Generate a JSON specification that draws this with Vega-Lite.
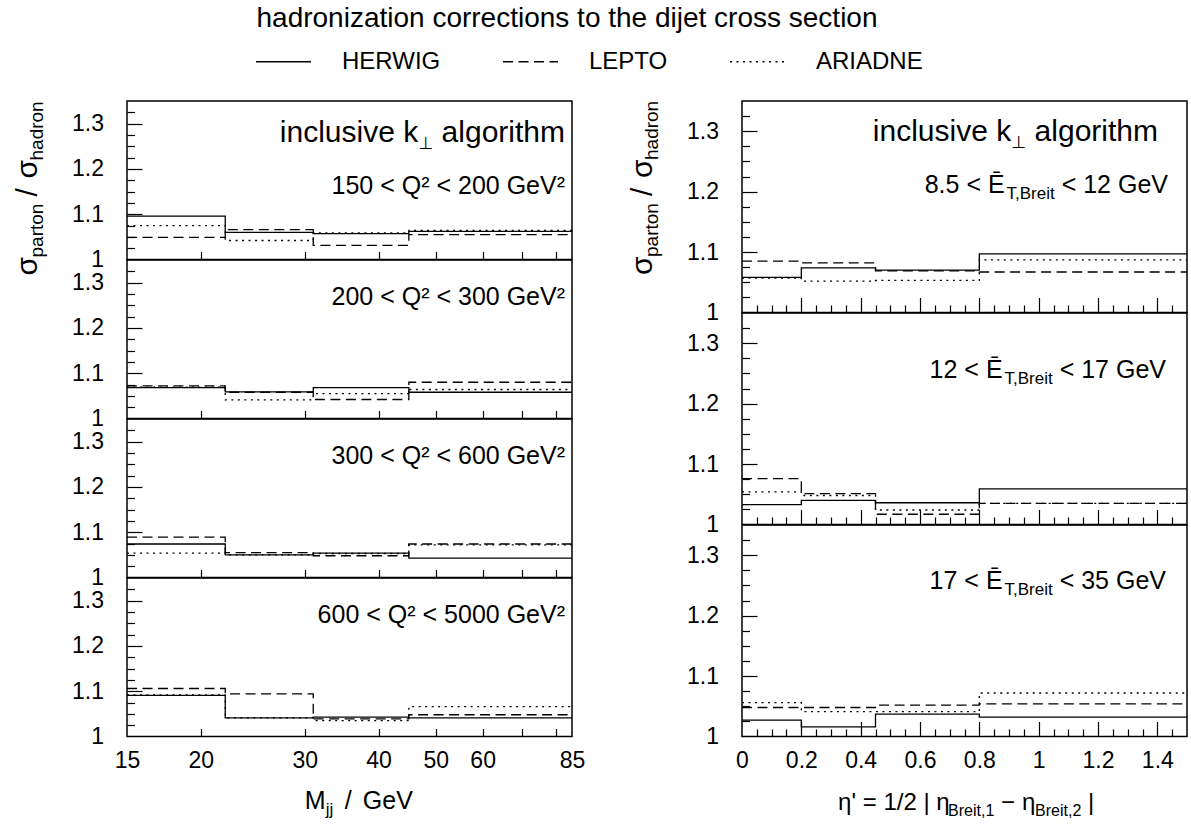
{
  "$schema": "https://vega.github.io/schema/vega-lite/v6.json",
  "autosize": {"type": "none"},
  "padding": {"left": 127, "top": 101, "right": 1064, "bottom": 726},
  "background": "white",
  "title": {"text": "hadronization corrections to the dijet cross section", "anchor": "middle", "frame": "group", "dx": 440, "offset": 0, "fontSize": 28, "fontWeight": "normal", "font": "Liberation Sans", "color": "black"},
  "datasets": {
    "h": [
      {"p":"L1","m":"HERWIG","x":15,"y":1.096},{"p":"L1","m":"HERWIG","x":22,"y":1.060},{"p":"L1","m":"HERWIG","x":31,"y":1.057},{"p":"L1","m":"HERWIG","x":45,"y":1.062},{"p":"L1","m":"HERWIG","x":85,"y":1.062},
      {"p":"L1","m":"LEPTO","x":15,"y":1.049},{"p":"L1","m":"LEPTO","x":22,"y":1.066},{"p":"L1","m":"LEPTO","x":31,"y":1.031},{"p":"L1","m":"LEPTO","x":45,"y":1.055},{"p":"L1","m":"LEPTO","x":85,"y":1.055},
      {"p":"L1","m":"ARIADNE","x":15,"y":1.075},{"p":"L1","m":"ARIADNE","x":22,"y":1.042},{"p":"L1","m":"ARIADNE","x":31,"y":1.059},{"p":"L1","m":"ARIADNE","x":45,"y":1.064},{"p":"L1","m":"ARIADNE","x":85,"y":1.064},
      {"p":"L2","m":"HERWIG","x":15,"y":1.068},{"p":"L2","m":"HERWIG","x":22,"y":1.059},{"p":"L2","m":"HERWIG","x":31,"y":1.068},{"p":"L2","m":"HERWIG","x":45,"y":1.058},{"p":"L2","m":"HERWIG","x":85,"y":1.058},
      {"p":"L2","m":"LEPTO","x":15,"y":1.072},{"p":"L2","m":"LEPTO","x":22,"y":1.058},{"p":"L2","m":"LEPTO","x":31,"y":1.042},{"p":"L2","m":"LEPTO","x":45,"y":1.080},{"p":"L2","m":"LEPTO","x":85,"y":1.080},
      {"p":"L2","m":"ARIADNE","x":15,"y":1.069},{"p":"L2","m":"ARIADNE","x":22,"y":1.041},{"p":"L2","m":"ARIADNE","x":31,"y":1.055},{"p":"L2","m":"ARIADNE","x":45,"y":1.064},{"p":"L2","m":"ARIADNE","x":85,"y":1.064},
      {"p":"L3","m":"HERWIG","x":15,"y":1.074},{"p":"L3","m":"HERWIG","x":22,"y":1.050},{"p":"L3","m":"HERWIG","x":31,"y":1.054},{"p":"L3","m":"HERWIG","x":45,"y":1.043},{"p":"L3","m":"HERWIG","x":85,"y":1.043},
      {"p":"L3","m":"LEPTO","x":15,"y":1.089},{"p":"L3","m":"LEPTO","x":22,"y":1.055},{"p":"L3","m":"LEPTO","x":31,"y":1.048},{"p":"L3","m":"LEPTO","x":45,"y":1.074},{"p":"L3","m":"LEPTO","x":85,"y":1.074},
      {"p":"L3","m":"ARIADNE","x":15,"y":1.054},{"p":"L3","m":"ARIADNE","x":22,"y":1.050},{"p":"L3","m":"ARIADNE","x":31,"y":1.053},{"p":"L3","m":"ARIADNE","x":45,"y":1.072},{"p":"L3","m":"ARIADNE","x":85,"y":1.072},
      {"p":"L4","m":"HERWIG","x":15,"y":1.091},{"p":"L4","m":"HERWIG","x":22,"y":1.041},{"p":"L4","m":"HERWIG","x":31,"y":1.043},{"p":"L4","m":"HERWIG","x":45,"y":1.041},{"p":"L4","m":"HERWIG","x":85,"y":1.041},
      {"p":"L4","m":"LEPTO","x":15,"y":1.106},{"p":"L4","m":"LEPTO","x":22,"y":1.094},{"p":"L4","m":"LEPTO","x":31,"y":1.039},{"p":"L4","m":"LEPTO","x":45,"y":1.048},{"p":"L4","m":"LEPTO","x":85,"y":1.048},
      {"p":"L4","m":"ARIADNE","x":15,"y":1.092},{"p":"L4","m":"ARIADNE","x":22,"y":1.041},{"p":"L4","m":"ARIADNE","x":31,"y":1.035},{"p":"L4","m":"ARIADNE","x":45,"y":1.066},{"p":"L4","m":"ARIADNE","x":85,"y":1.066},
      {"p":"R1","m":"HERWIG","x":0,"y":1.058},{"p":"R1","m":"HERWIG","x":0.2,"y":1.074},{"p":"R1","m":"HERWIG","x":0.45,"y":1.070},{"p":"R1","m":"HERWIG","x":0.8,"y":1.097},{"p":"R1","m":"HERWIG","x":1.5,"y":1.097},
      {"p":"R1","m":"LEPTO","x":0,"y":1.085},{"p":"R1","m":"LEPTO","x":0.2,"y":1.082},{"p":"R1","m":"LEPTO","x":0.45,"y":1.069},{"p":"R1","m":"LEPTO","x":0.8,"y":1.067},{"p":"R1","m":"LEPTO","x":1.5,"y":1.067},
      {"p":"R1","m":"ARIADNE","x":0,"y":1.057},{"p":"R1","m":"ARIADNE","x":0.2,"y":1.052},{"p":"R1","m":"ARIADNE","x":0.45,"y":1.053},{"p":"R1","m":"ARIADNE","x":0.8,"y":1.087},{"p":"R1","m":"ARIADNE","x":1.5,"y":1.087},
      {"p":"R2","m":"HERWIG","x":0,"y":1.033},{"p":"R2","m":"HERWIG","x":0.2,"y":1.040},{"p":"R2","m":"HERWIG","x":0.45,"y":1.036},{"p":"R2","m":"HERWIG","x":0.8,"y":1.059},{"p":"R2","m":"HERWIG","x":1.5,"y":1.059},
      {"p":"R2","m":"LEPTO","x":0,"y":1.076},{"p":"R2","m":"LEPTO","x":0.2,"y":1.051},{"p":"R2","m":"LEPTO","x":0.45,"y":1.017},{"p":"R2","m":"LEPTO","x":0.8,"y":1.035},{"p":"R2","m":"LEPTO","x":1.5,"y":1.035},
      {"p":"R2","m":"ARIADNE","x":0,"y":1.054},{"p":"R2","m":"ARIADNE","x":0.2,"y":1.048},{"p":"R2","m":"ARIADNE","x":0.45,"y":1.024},{"p":"R2","m":"ARIADNE","x":0.8,"y":1.035},{"p":"R2","m":"ARIADNE","x":1.5,"y":1.035},
      {"p":"R3","m":"HERWIG","x":0,"y":1.027},{"p":"R3","m":"HERWIG","x":0.2,"y":1.016},{"p":"R3","m":"HERWIG","x":0.45,"y":1.037},{"p":"R3","m":"HERWIG","x":0.8,"y":1.032},{"p":"R3","m":"HERWIG","x":1.5,"y":1.032},
      {"p":"R3","m":"LEPTO","x":0,"y":1.048},{"p":"R3","m":"LEPTO","x":0.2,"y":1.048},{"p":"R3","m":"LEPTO","x":0.45,"y":1.052},{"p":"R3","m":"LEPTO","x":0.8,"y":1.054},{"p":"R3","m":"LEPTO","x":1.5,"y":1.054},
      {"p":"R3","m":"ARIADNE","x":0,"y":1.056},{"p":"R3","m":"ARIADNE","x":0.2,"y":1.041},{"p":"R3","m":"ARIADNE","x":0.45,"y":1.041},{"p":"R3","m":"ARIADNE","x":0.8,"y":1.072},{"p":"R3","m":"ARIADNE","x":1.5,"y":1.072}
    ]
  },
  "spacing": 615,
  "bounds": "flush",
  "resolve": {"scale": {"strokeDash": "shared"}, "legend": {"strokeDash": "shared"}},
  "hconcat": [
    {
      "spacing": 0, "bounds": "flush",
      "resolve": {"scale": {"strokeDash": "shared"}, "legend": {"strokeDash": "shared"}},
      "vconcat": [
        {
          "width": 445, "height": 158.5,
          "resolve": {"axis": {"x": "independent", "y": "independent"}},
          "layer": [
            {"data": {"name": "h"}, "transform": [{"filter": "datum.p == 'L1'"}],
             "mark": {"type": "line", "interpolate": "step-after", "color": "black", "strokeWidth": 1.3},
             "encoding": {
               "x": {"field": "x", "type": "quantitative", "scale": {"type": "log", "domain": [15, 85], "nice": false}, "axis": null},
               "y": {"field": "y", "type": "quantitative", "scale": {"domain": [1, 1.35], "nice": false, "zero": false}, "axis": {"orient": "left", "values": [1, 1.1, 1.2, 1.3], "ticks": false, "labelPadding": 23.5, "format": "~g", "title": null, "labelOverlap": false, "labelFlush": false}},
               "strokeDash": {"field": "m", "type": "nominal", "scale": {"domain": ["HERWIG", "LEPTO", "ARIADNE"], "range": [[1, 0], [10, 5.5], [2, 4.5]]}, "legend": {"title": null}}
             }},
            {"data": {"values": [{}]}, "mark": {"type": "point", "opacity": 0},
             "encoding": {
               "x": {"datum": 50, "type": "quantitative", "axis": {"orient": "bottom", "values": [20, 30, 40, 50, 60, 70, 80], "tickSize": -8, "labels": false, "title": null}},
               "y": {"datum": 1.1, "type": "quantitative", "axis": {"orient": "left", "values": [1.1, 1.2, 1.3], "tickSize": -15, "labels": false, "title": null}}
             }},
            {"data": {"values": [{}]}, "mark": {"type": "point", "opacity": 0},
             "encoding": {
               "x": {"datum": 50, "type": "quantitative", "axis": null},
               "y": {"datum": 1.1, "type": "quantitative", "axis": {"orient": "left", "values": [1.025, 1.05, 1.075, 1.125, 1.15, 1.175, 1.225, 1.25, 1.275, 1.325], "tickSize": -7.5, "labels": false, "title": null}}
             }},
            {"data": {"values": [{}]}, "mark": {"type": "text", "text": "inclusive k", "align": "right", "fontSize": 30, "dx": -153.8},
             "encoding": {"x": {"datum": 85, "type": "quantitative", "axis": null}, "y": {"datum": 1.26, "type": "quantitative", "axis": null}}},
            {"data": {"values": [{}]}, "mark": {"type": "text", "text": "⊥", "align": "right", "font": "DejaVu Sans", "fill": "black", "fontSize": 17, "dx": -138.7, "dy": 7},
             "encoding": {"x": {"datum": 85, "type": "quantitative", "axis": null}, "y": {"datum": 1.26, "type": "quantitative", "axis": null}}},
            {"data": {"values": [{}]}, "mark": {"type": "text", "text": "\u00a0algorithm", "align": "right", "fontSize": 30, "dx": -7},
             "encoding": {"x": {"datum": 85, "type": "quantitative", "axis": null}, "y": {"datum": 1.26, "type": "quantitative", "axis": null}}},
            {"data": {"values": [{}]}, "mark": {"type": "text", "text": "150 < Q² < 200 GeV²", "align": "right", "fontSize": 25, "dx": -7},
             "encoding": {"x": {"datum": 85, "type": "quantitative", "axis": null}, "y": {"datum": 1.145, "type": "quantitative", "axis": null}}},
            {"data": {"values": [{}]}, "mark": {"type": "text", "text": "σ", "align": "left", "angle": 270, "fontSize": 30, "dx": -16, "dy": -90},
             "encoding": {"x": {"datum": 15, "type": "quantitative", "axis": null}, "y": {"datum": 1, "type": "quantitative", "axis": null}}},
            {"data": {"values": [{}]}, "mark": {"type": "text", "text": "parton", "align": "left", "angle": 270, "fontSize": 19, "dx": 2, "dy": -84},
             "encoding": {"x": {"datum": 15, "type": "quantitative", "axis": null}, "y": {"datum": 1, "type": "quantitative", "axis": null}}},
            {"data": {"values": [{}]}, "mark": {"type": "text", "text": "/", "align": "left", "angle": 270, "fontSize": 30, "dx": 63, "dy": -90},
             "encoding": {"x": {"datum": 15, "type": "quantitative", "axis": null}, "y": {"datum": 1, "type": "quantitative", "axis": null}}},
            {"data": {"values": [{}]}, "mark": {"type": "text", "text": "σ", "align": "left", "angle": 270, "fontSize": 30, "dx": 81, "dy": -90},
             "encoding": {"x": {"datum": 15, "type": "quantitative", "axis": null}, "y": {"datum": 1, "type": "quantitative", "axis": null}}},
            {"data": {"values": [{}]}, "mark": {"type": "text", "text": "hadron", "align": "left", "angle": 270, "fontSize": 19, "dx": 99, "dy": -84},
             "encoding": {"x": {"datum": 15, "type": "quantitative", "axis": null}, "y": {"datum": 1, "type": "quantitative", "axis": null}}}
          ]
        },
        {
          "width": 445, "height": 158.5,
          "resolve": {"axis": {"x": "independent", "y": "independent"}},
          "layer": [
            {"data": {"name": "h"}, "transform": [{"filter": "datum.p == 'L2'"}],
             "mark": {"type": "line", "interpolate": "step-after", "color": "black", "strokeWidth": 1.3},
             "encoding": {
               "x": {"field": "x", "type": "quantitative", "scale": {"type": "log", "domain": [15, 85], "nice": false}, "axis": null},
               "y": {"field": "y", "type": "quantitative", "scale": {"domain": [1, 1.35], "nice": false, "zero": false}, "axis": {"orient": "left", "values": [1, 1.1, 1.2, 1.3], "ticks": false, "labelPadding": 23.5, "format": "~g", "title": null, "labelOverlap": false, "labelFlush": false}},
               "strokeDash": {"field": "m", "type": "nominal", "scale": {"domain": ["HERWIG", "LEPTO", "ARIADNE"], "range": [[1, 0], [10, 5.5], [2, 4.5]]}, "legend": {"title": null}}
             }},
            {"data": {"values": [{}]}, "mark": {"type": "point", "opacity": 0},
             "encoding": {
               "x": {"datum": 50, "type": "quantitative", "axis": {"orient": "bottom", "values": [20, 30, 40, 50, 60, 70, 80], "tickSize": -8, "labels": false, "title": null}},
               "y": {"datum": 1.1, "type": "quantitative", "axis": {"orient": "left", "values": [1.1, 1.2, 1.3], "tickSize": -15, "labels": false, "title": null}}
             }},
            {"data": {"values": [{}]}, "mark": {"type": "point", "opacity": 0},
             "encoding": {
               "x": {"datum": 50, "type": "quantitative", "axis": null},
               "y": {"datum": 1.1, "type": "quantitative", "axis": {"orient": "left", "values": [1.025, 1.05, 1.075, 1.125, 1.15, 1.175, 1.225, 1.25, 1.275, 1.325], "tickSize": -7.5, "labels": false, "title": null}}
             }},
            {"data": {"values": [{}]}, "mark": {"type": "text", "text": "200 < Q² < 300 GeV²", "align": "right", "fontSize": 25, "dx": -7},
             "encoding": {"x": {"datum": 85, "type": "quantitative", "axis": null}, "y": {"datum": 1.25, "type": "quantitative", "axis": null}}}
          ]
        },
        {
          "width": 445, "height": 158.5,
          "resolve": {"axis": {"x": "independent", "y": "independent"}},
          "layer": [
            {"data": {"name": "h"}, "transform": [{"filter": "datum.p == 'L3'"}],
             "mark": {"type": "line", "interpolate": "step-after", "color": "black", "strokeWidth": 1.3},
             "encoding": {
               "x": {"field": "x", "type": "quantitative", "scale": {"type": "log", "domain": [15, 85], "nice": false}, "axis": null},
               "y": {"field": "y", "type": "quantitative", "scale": {"domain": [1, 1.35], "nice": false, "zero": false}, "axis": {"orient": "left", "values": [1, 1.1, 1.2, 1.3], "ticks": false, "labelPadding": 23.5, "format": "~g", "title": null, "labelOverlap": false, "labelFlush": false}},
               "strokeDash": {"field": "m", "type": "nominal", "scale": {"domain": ["HERWIG", "LEPTO", "ARIADNE"], "range": [[1, 0], [10, 5.5], [2, 4.5]]}, "legend": {"title": null}}
             }},
            {"data": {"values": [{}]}, "mark": {"type": "point", "opacity": 0},
             "encoding": {
               "x": {"datum": 50, "type": "quantitative", "axis": {"orient": "bottom", "values": [20, 30, 40, 50, 60, 70, 80], "tickSize": -8, "labels": false, "title": null}},
               "y": {"datum": 1.1, "type": "quantitative", "axis": {"orient": "left", "values": [1.1, 1.2, 1.3], "tickSize": -15, "labels": false, "title": null}}
             }},
            {"data": {"values": [{}]}, "mark": {"type": "point", "opacity": 0},
             "encoding": {
               "x": {"datum": 50, "type": "quantitative", "axis": null},
               "y": {"datum": 1.1, "type": "quantitative", "axis": {"orient": "left", "values": [1.025, 1.05, 1.075, 1.125, 1.15, 1.175, 1.225, 1.25, 1.275, 1.325], "tickSize": -7.5, "labels": false, "title": null}}
             }},
            {"data": {"values": [{}]}, "mark": {"type": "text", "text": "300 < Q² < 600 GeV²", "align": "right", "fontSize": 25, "dx": -7},
             "encoding": {"x": {"datum": 85, "type": "quantitative", "axis": null}, "y": {"datum": 1.25, "type": "quantitative", "axis": null}}}
          ]
        },
        {
          "width": 445, "height": 158.5,
          "resolve": {"axis": {"x": "independent", "y": "independent"}},
          "layer": [
            {"data": {"name": "h"}, "transform": [{"filter": "datum.p == 'L4'"}],
             "mark": {"type": "line", "interpolate": "step-after", "color": "black", "strokeWidth": 1.3},
             "encoding": {
               "x": {"field": "x", "type": "quantitative", "scale": {"type": "log", "domain": [15, 85], "nice": false}, "axis": {"orient": "bottom", "values": [15, 20, 30, 40, 50, 60, 85], "ticks": false, "labelPadding": 13, "format": "~g", "title": null, "labelOverlap": false, "labelFlush": false}},
               "y": {"field": "y", "type": "quantitative", "scale": {"domain": [1, 1.35], "nice": false, "zero": false}, "axis": {"orient": "left", "values": [1, 1.1, 1.2, 1.3], "ticks": false, "labelPadding": 23.5, "format": "~g", "title": null, "labelOverlap": false, "labelFlush": false}},
               "strokeDash": {"field": "m", "type": "nominal", "scale": {"domain": ["HERWIG", "LEPTO", "ARIADNE"], "range": [[1, 0], [10, 5.5], [2, 4.5]]}, "legend": {"title": null}}
             }},
            {"data": {"values": [{}]}, "mark": {"type": "point", "opacity": 0},
             "encoding": {
               "x": {"datum": 50, "type": "quantitative", "axis": {"orient": "bottom", "values": [20, 30, 40, 50, 60, 70, 80], "tickSize": -8, "labels": false, "title": null}},
               "y": {"datum": 1.1, "type": "quantitative", "axis": {"orient": "left", "values": [1.1, 1.2, 1.3], "tickSize": -15, "labels": false, "title": null}}
             }},
            {"data": {"values": [{}]}, "mark": {"type": "point", "opacity": 0},
             "encoding": {
               "x": {"datum": 50, "type": "quantitative", "axis": null},
               "y": {"datum": 1.1, "type": "quantitative", "axis": {"orient": "left", "values": [1.025, 1.05, 1.075, 1.125, 1.15, 1.175, 1.225, 1.25, 1.275, 1.325], "tickSize": -7.5, "labels": false, "title": null}}
             }},
            {"data": {"values": [{}]}, "mark": {"type": "text", "text": "600 < Q² < 5000 GeV²", "align": "right", "fontSize": 25, "dx": -7},
             "encoding": {"x": {"datum": 85, "type": "quantitative", "axis": null}, "y": {"datum": 1.25, "type": "quantitative", "axis": null}}},
            {"data": {"values": [{}]}, "mark": {"type": "text", "text": "M", "align": "left", "fontSize": 25, "dx": 0},
             "encoding": {"x": {"datum": 30, "type": "quantitative", "axis": null}, "y": {"datum": 0.839, "type": "quantitative", "axis": null}}},
            {"data": {"values": [{}]}, "mark": {"type": "text", "text": "jj", "align": "left", "fontSize": 17, "dx": 21, "dy": 6},
             "encoding": {"x": {"datum": 30, "type": "quantitative", "axis": null}, "y": {"datum": 0.839, "type": "quantitative", "axis": null}}},
            {"data": {"values": [{}]}, "mark": {"type": "text", "text": "/", "align": "left", "fontSize": 25, "dx": 40},
             "encoding": {"x": {"datum": 30, "type": "quantitative", "axis": null}, "y": {"datum": 0.839, "type": "quantitative", "axis": null}}},
            {"data": {"values": [{}]}, "mark": {"type": "text", "text": "GeV", "align": "left", "fontSize": 25, "dx": 58},
             "encoding": {"x": {"datum": 30, "type": "quantitative", "axis": null}, "y": {"datum": 0.839, "type": "quantitative", "axis": null}}}
          ]
        }
      ]
    },
    {
      "spacing": 0, "bounds": "flush",
      "resolve": {"scale": {"strokeDash": "shared"}, "legend": {"strokeDash": "shared"}},
      "vconcat": [
        {
          "width": 445, "height": 211.5,
          "resolve": {"axis": {"x": "independent", "y": "independent"}},
          "layer": [
            {"data": {"name": "h"}, "transform": [{"filter": "datum.p == 'R1'"}],
             "mark": {"type": "line", "interpolate": "step-after", "color": "black", "strokeWidth": 1.3},
             "encoding": {
               "x": {"field": "x", "type": "quantitative", "scale": {"domain": [0, 1.5], "nice": false, "zero": false}, "axis": null},
               "y": {"field": "y", "type": "quantitative", "scale": {"domain": [1, 1.35], "nice": false, "zero": false}, "axis": {"orient": "left", "values": [1, 1.1, 1.2, 1.3], "ticks": false, "labelPadding": 23.5, "format": "~g", "title": null, "labelOverlap": false, "labelFlush": false}},
               "strokeDash": {"field": "m", "type": "nominal", "scale": {"domain": ["HERWIG", "LEPTO", "ARIADNE"], "range": [[1, 0], [10, 5.5], [2, 4.5]]}, "legend": {"title": null}}
             }},
            {"data": {"values": [{}]}, "mark": {"type": "point", "opacity": 0},
             "encoding": {
               "x": {"datum": 0.5, "type": "quantitative", "axis": {"orient": "bottom", "values": [0.2, 0.4, 0.6, 0.8, 1, 1.2, 1.4], "tickSize": -15, "labels": false, "title": null}},
               "y": {"datum": 1.1, "type": "quantitative", "axis": {"orient": "left", "values": [1.1, 1.2, 1.3], "tickSize": -15, "labels": false, "title": null}}
             }},
            {"data": {"values": [{}]}, "mark": {"type": "point", "opacity": 0},
             "encoding": {
               "x": {"datum": 0.5, "type": "quantitative", "axis": {"orient": "bottom", "values": [0.05, 0.1, 0.15, 0.25, 0.3, 0.35, 0.45, 0.5, 0.55, 0.65, 0.7, 0.75, 0.85, 0.9, 0.95, 1.05, 1.1, 1.15, 1.25, 1.3, 1.35, 1.45], "tickSize": -7.5, "labels": false, "title": null}},
               "y": {"datum": 1.1, "type": "quantitative", "axis": {"orient": "left", "values": [1.025, 1.05, 1.075, 1.125, 1.15, 1.175, 1.225, 1.25, 1.275, 1.325], "tickSize": -7.5, "labels": false, "title": null}}
             }},
            {"data": {"values": [{}]}, "mark": {"type": "text", "text": "inclusive k", "align": "right", "fontSize": 30, "dx": -175.8},
             "encoding": {"x": {"datum": 1.5, "type": "quantitative", "axis": null}, "y": {"datum": 1.284, "type": "quantitative", "axis": null}}},
            {"data": {"values": [{}]}, "mark": {"type": "text", "text": "⊥", "align": "right", "font": "DejaVu Sans", "fill": "black", "fontSize": 17, "dx": -160.7, "dy": 7},
             "encoding": {"x": {"datum": 1.5, "type": "quantitative", "axis": null}, "y": {"datum": 1.284, "type": "quantitative", "axis": null}}},
            {"data": {"values": [{}]}, "mark": {"type": "text", "text": "\u00a0algorithm", "align": "right", "fontSize": 30, "dx": -29},
             "encoding": {"x": {"datum": 1.5, "type": "quantitative", "axis": null}, "y": {"datum": 1.284, "type": "quantitative", "axis": null}}},
            {"data": {"values": [{}]}, "mark": {"type": "text", "text": "8.5 < Ē", "align": "right", "fontSize": 25, "dx": -182.4},
             "encoding": {"x": {"datum": 1.5, "type": "quantitative", "axis": null}, "y": {"datum": 1.198, "type": "quantitative", "axis": null}}},
            {"data": {"values": [{}]}, "mark": {"type": "text", "text": "T,Breit", "align": "right", "fontSize": 17, "dx": -132.3, "dy": 6},
             "encoding": {"x": {"datum": 1.5, "type": "quantitative", "axis": null}, "y": {"datum": 1.198, "type": "quantitative", "axis": null}}},
            {"data": {"values": [{}]}, "mark": {"type": "text", "text": "\u00a0<\u00a012\u00a0GeV", "align": "right", "fontSize": 25, "dx": -19},
             "encoding": {"x": {"datum": 1.5, "type": "quantitative", "axis": null}, "y": {"datum": 1.198, "type": "quantitative", "axis": null}}},
            {"data": {"values": [{}]}, "mark": {"type": "text", "text": "σ", "align": "left", "angle": 270, "fontSize": 30, "dx": 37.5, "dy": -90},
             "encoding": {"x": {"datum": 0, "type": "quantitative", "axis": null}, "y": {"datum": 1, "type": "quantitative", "axis": null}}},
            {"data": {"values": [{}]}, "mark": {"type": "text", "text": "parton", "align": "left", "angle": 270, "fontSize": 19, "dx": 55.5, "dy": -84},
             "encoding": {"x": {"datum": 0, "type": "quantitative", "axis": null}, "y": {"datum": 1, "type": "quantitative", "axis": null}}},
            {"data": {"values": [{}]}, "mark": {"type": "text", "text": "/", "align": "left", "angle": 270, "fontSize": 30, "dx": 116.5, "dy": -90},
             "encoding": {"x": {"datum": 0, "type": "quantitative", "axis": null}, "y": {"datum": 1, "type": "quantitative", "axis": null}}},
            {"data": {"values": [{}]}, "mark": {"type": "text", "text": "σ", "align": "left", "angle": 270, "fontSize": 30, "dx": 134.5, "dy": -90},
             "encoding": {"x": {"datum": 0, "type": "quantitative", "axis": null}, "y": {"datum": 1, "type": "quantitative", "axis": null}}},
            {"data": {"values": [{}]}, "mark": {"type": "text", "text": "hadron", "align": "left", "angle": 270, "fontSize": 19, "dx": 152.5, "dy": -84},
             "encoding": {"x": {"datum": 0, "type": "quantitative", "axis": null}, "y": {"datum": 1, "type": "quantitative", "axis": null}}}
          ]
        },
        {
          "width": 445, "height": 211.5,
          "resolve": {"axis": {"x": "independent", "y": "independent"}},
          "layer": [
            {"data": {"name": "h"}, "transform": [{"filter": "datum.p == 'R2'"}],
             "mark": {"type": "line", "interpolate": "step-after", "color": "black", "strokeWidth": 1.3},
             "encoding": {
               "x": {"field": "x", "type": "quantitative", "scale": {"domain": [0, 1.5], "nice": false, "zero": false}, "axis": null},
               "y": {"field": "y", "type": "quantitative", "scale": {"domain": [1, 1.35], "nice": false, "zero": false}, "axis": {"orient": "left", "values": [1, 1.1, 1.2, 1.3], "ticks": false, "labelPadding": 23.5, "format": "~g", "title": null, "labelOverlap": false, "labelFlush": false}},
               "strokeDash": {"field": "m", "type": "nominal", "scale": {"domain": ["HERWIG", "LEPTO", "ARIADNE"], "range": [[1, 0], [10, 5.5], [2, 4.5]]}, "legend": {"title": null}}
             }},
            {"data": {"values": [{}]}, "mark": {"type": "point", "opacity": 0},
             "encoding": {
               "x": {"datum": 0.5, "type": "quantitative", "axis": {"orient": "bottom", "values": [0.2, 0.4, 0.6, 0.8, 1, 1.2, 1.4], "tickSize": -15, "labels": false, "title": null}},
               "y": {"datum": 1.1, "type": "quantitative", "axis": {"orient": "left", "values": [1.1, 1.2, 1.3], "tickSize": -15, "labels": false, "title": null}}
             }},
            {"data": {"values": [{}]}, "mark": {"type": "point", "opacity": 0},
             "encoding": {
               "x": {"datum": 0.5, "type": "quantitative", "axis": {"orient": "bottom", "values": [0.05, 0.1, 0.15, 0.25, 0.3, 0.35, 0.45, 0.5, 0.55, 0.65, 0.7, 0.75, 0.85, 0.9, 0.95, 1.05, 1.1, 1.15, 1.25, 1.3, 1.35, 1.45], "tickSize": -7.5, "labels": false, "title": null}},
               "y": {"datum": 1.1, "type": "quantitative", "axis": {"orient": "left", "values": [1.025, 1.05, 1.075, 1.125, 1.15, 1.175, 1.225, 1.25, 1.275, 1.325], "tickSize": -7.5, "labels": false, "title": null}}
             }},
            {"data": {"values": [{}]}, "mark": {"type": "text", "text": "12 < Ē", "align": "right", "fontSize": 25, "dx": -184.4},
             "encoding": {"x": {"datum": 1.5, "type": "quantitative", "axis": null}, "y": {"datum": 1.242, "type": "quantitative", "axis": null}}},
            {"data": {"values": [{}]}, "mark": {"type": "text", "text": "T,Breit", "align": "right", "fontSize": 17, "dx": -134.3, "dy": 6},
             "encoding": {"x": {"datum": 1.5, "type": "quantitative", "axis": null}, "y": {"datum": 1.242, "type": "quantitative", "axis": null}}},
            {"data": {"values": [{}]}, "mark": {"type": "text", "text": "\u00a0<\u00a017\u00a0GeV", "align": "right", "fontSize": 25, "dx": -21},
             "encoding": {"x": {"datum": 1.5, "type": "quantitative", "axis": null}, "y": {"datum": 1.242, "type": "quantitative", "axis": null}}}
          ]
        },
        {
          "width": 445, "height": 211.5,
          "resolve": {"axis": {"x": "independent", "y": "independent"}},
          "layer": [
            {"data": {"name": "h"}, "transform": [{"filter": "datum.p == 'R3'"}],
             "mark": {"type": "line", "interpolate": "step-after", "color": "black", "strokeWidth": 1.3},
             "encoding": {
               "x": {"field": "x", "type": "quantitative", "scale": {"domain": [0, 1.5], "nice": false, "zero": false}, "axis": {"orient": "bottom", "values": [0, 0.2, 0.4, 0.6, 0.8, 1, 1.2, 1.4], "ticks": false, "labelPadding": 13, "format": "~g", "title": null, "labelOverlap": false, "labelFlush": false}},
               "y": {"field": "y", "type": "quantitative", "scale": {"domain": [1, 1.35], "nice": false, "zero": false}, "axis": {"orient": "left", "values": [1, 1.1, 1.2, 1.3], "ticks": false, "labelPadding": 23.5, "format": "~g", "title": null, "labelOverlap": false, "labelFlush": false}},
               "strokeDash": {"field": "m", "type": "nominal", "scale": {"domain": ["HERWIG", "LEPTO", "ARIADNE"], "range": [[1, 0], [10, 5.5], [2, 4.5]]}, "legend": {"title": null}}
             }},
            {"data": {"values": [{}]}, "mark": {"type": "point", "opacity": 0},
             "encoding": {
               "x": {"datum": 0.5, "type": "quantitative", "axis": {"orient": "bottom", "values": [0.2, 0.4, 0.6, 0.8, 1, 1.2, 1.4], "tickSize": -15, "labels": false, "title": null}},
               "y": {"datum": 1.1, "type": "quantitative", "axis": {"orient": "left", "values": [1.1, 1.2, 1.3], "tickSize": -15, "labels": false, "title": null}}
             }},
            {"data": {"values": [{}]}, "mark": {"type": "point", "opacity": 0},
             "encoding": {
               "x": {"datum": 0.5, "type": "quantitative", "axis": {"orient": "bottom", "values": [0.05, 0.1, 0.15, 0.25, 0.3, 0.35, 0.45, 0.5, 0.55, 0.65, 0.7, 0.75, 0.85, 0.9, 0.95, 1.05, 1.1, 1.15, 1.25, 1.3, 1.35, 1.45], "tickSize": -7.5, "labels": false, "title": null}},
               "y": {"datum": 1.1, "type": "quantitative", "axis": {"orient": "left", "values": [1.025, 1.05, 1.075, 1.125, 1.15, 1.175, 1.225, 1.25, 1.275, 1.325], "tickSize": -7.5, "labels": false, "title": null}}
             }},
            {"data": {"values": [{}]}, "mark": {"type": "text", "text": "17 < Ē", "align": "right", "fontSize": 25, "dx": -184.4},
             "encoding": {"x": {"datum": 1.5, "type": "quantitative", "axis": null}, "y": {"datum": 1.244, "type": "quantitative", "axis": null}}},
            {"data": {"values": [{}]}, "mark": {"type": "text", "text": "T,Breit", "align": "right", "fontSize": 17, "dx": -134.3, "dy": 6},
             "encoding": {"x": {"datum": 1.5, "type": "quantitative", "axis": null}, "y": {"datum": 1.244, "type": "quantitative", "axis": null}}},
            {"data": {"values": [{}]}, "mark": {"type": "text", "text": "\u00a0<\u00a035\u00a0GeV", "align": "right", "fontSize": 25, "dx": -21},
             "encoding": {"x": {"datum": 1.5, "type": "quantitative", "axis": null}, "y": {"datum": 1.244, "type": "quantitative", "axis": null}}},
            {"data": {"values": [{}]}, "mark": {"type": "text", "text": "η' = 1/2 | η", "align": "left", "fontSize": 24, "dx": 0},
             "encoding": {"x": {"datum": 0.324, "type": "quantitative", "axis": null}, "y": {"datum": 0.879, "type": "quantitative", "axis": null}}},
            {"data": {"values": [{}]}, "mark": {"type": "text", "text": "Breit,1", "align": "left", "fontSize": 16, "dx": 110, "dy": 6},
             "encoding": {"x": {"datum": 0.324, "type": "quantitative", "axis": null}, "y": {"datum": 0.879, "type": "quantitative", "axis": null}}},
            {"data": {"values": [{}]}, "mark": {"type": "text", "text": "−", "align": "left", "fontSize": 24, "dx": 163},
             "encoding": {"x": {"datum": 0.324, "type": "quantitative", "axis": null}, "y": {"datum": 0.879, "type": "quantitative", "axis": null}}},
            {"data": {"values": [{}]}, "mark": {"type": "text", "text": "η", "align": "left", "fontSize": 24, "dx": 184},
             "encoding": {"x": {"datum": 0.324, "type": "quantitative", "axis": null}, "y": {"datum": 0.879, "type": "quantitative", "axis": null}}},
            {"data": {"values": [{}]}, "mark": {"type": "text", "text": "Breit,2", "align": "left", "fontSize": 16, "dx": 197, "dy": 6},
             "encoding": {"x": {"datum": 0.324, "type": "quantitative", "axis": null}, "y": {"datum": 0.879, "type": "quantitative", "axis": null}}},
            {"data": {"values": [{}]}, "mark": {"type": "text", "text": "|", "align": "left", "fontSize": 24, "dx": 250},
             "encoding": {"x": {"datum": 0.324, "type": "quantitative", "axis": null}, "y": {"datum": 0.879, "type": "quantitative", "axis": null}}}
          ]
        }
      ]
    }
  ],
  "config": {
    "font": "Liberation Sans",
    "view": {"stroke": "black", "strokeWidth": 1.5},
    "axis": {"domain": false, "grid": false, "tickColor": "black", "tickWidth": 1.2, "labelColor": "black", "labelFont": "Liberation Sans", "labelFontSize": 23},
    "text": {"color": "black", "font": "Liberation Sans", "baseline": "alphabetic"},
    "legend": {"orient": "none", "direction": "horizontal", "legendX": 128, "legendY": -68, "symbolType": "stroke", "symbolSize": 3025, "symbolStrokeWidth": 1.5, "symbolStrokeColor": "black", "labelFontSize": 24, "labelFont": "Liberation Sans", "labelColor": "black", "labelOffset": 30, "columnPadding": 59}
  }
}
